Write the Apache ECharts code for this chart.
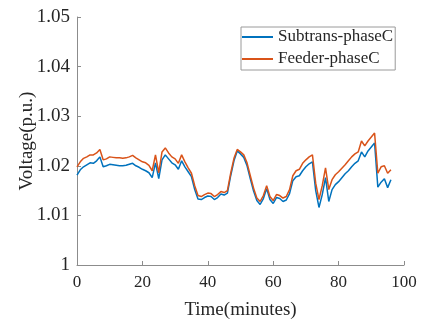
<!DOCTYPE html>
<html>
<head>
<meta charset="utf-8">
<style>
  html, body { margin: 0; padding: 0; background: #fff; }
  #chart { width: 422px; height: 320px; }
</style>
<script src="https://cdn.jsdelivr.net/npm/echarts@6/dist/echarts.min.js"></script>
</head>
<body>
<div id="chart"></div>
<script>
// 时间轴：0..96（每点对应一个采样时刻，单位 minutes 轴刻度）
const timeSteps = [
  0, 1, 2, 3, 4, 5, 6, 7, 8, 9, 10, 11, 12, 13, 14, 15, 16, 17, 18, 19,
  20, 21, 22, 23, 24, 25, 26, 27, 28, 29, 30, 31, 32, 33, 34, 35, 36, 37, 38, 39,
  40, 41, 42, 43, 44, 45, 46, 47, 48, 49, 50, 51, 52, 53, 54, 55, 56, 57, 58, 59,
  60, 61, 62, 63, 64, 65, 66, 67, 68, 69, 70, 71, 72, 73, 74, 75, 76, 77, 78, 79,
  80, 81, 82, 83, 84, 85, 86, 87, 88, 89, 90, 91, 92, 93, 94, 95, 96,
];

// 变电站出口 C 相电压（蓝线）
const subtransPhaseC = [
  1.0181, 1.0192, 1.0198, 1.0202, 1.0206, 1.0205, 1.0210, 1.0218, 1.0198, 1.0200,
  1.0203, 1.0202, 1.0201, 1.0200, 1.0200, 1.0201, 1.0203, 1.0205, 1.0200, 1.0197,
  1.0193, 1.0190, 1.0186, 1.0176, 1.0206, 1.0174, 1.0212, 1.0222, 1.0214, 1.0206,
  1.0202, 1.0193, 1.0210, 1.0198, 1.0188, 1.0178, 1.0152, 1.0133, 1.0132, 1.0136,
  1.0139, 1.0138, 1.0132, 1.0136, 1.0143, 1.0141, 1.0145, 1.0180, 1.0210, 1.0230,
  1.0224, 1.0217, 1.0200, 1.0174, 1.0149, 1.0130, 1.0122, 1.0134, 1.0154, 1.0132,
  1.0124, 1.0136, 1.0134, 1.0128, 1.0131, 1.0144, 1.0170, 1.0178, 1.0180, 1.0190,
  1.0198, 1.0204, 1.0208, 1.0150, 1.0116, 1.0142, 1.0176, 1.0128, 1.0152, 1.0162,
  1.0168, 1.0176, 1.0184, 1.0190, 1.0198, 1.0205, 1.0210, 1.0228, 1.0218, 1.0230,
  1.0238, 1.0246, 1.0157, 1.0167, 1.0174, 1.0156, 1.0172,
];

// 馈线末端 C 相电压（橙线）
const feederPhaseC = [
  1.0198, 1.0208, 1.0215, 1.0218, 1.0222, 1.0222, 1.0226, 1.0233, 1.0212, 1.0214,
  1.0218, 1.0217, 1.0216, 1.0216, 1.0215, 1.0216, 1.0218, 1.0221, 1.0216, 1.0212,
  1.0208, 1.0206, 1.0201, 1.0190, 1.0222, 1.0186, 1.0228, 1.0236, 1.0226, 1.0218,
  1.0214, 1.0205, 1.0222, 1.0208, 1.0196, 1.0185, 1.0160, 1.0140, 1.0138, 1.0142,
  1.0145, 1.0144, 1.0138, 1.0142, 1.0148, 1.0146, 1.0150, 1.0185, 1.0215, 1.0233,
  1.0228, 1.0222, 1.0206, 1.0180, 1.0155, 1.0135, 1.0128, 1.0140, 1.0160, 1.0138,
  1.0130, 1.0142, 1.0140, 1.0135, 1.0138, 1.0152, 1.0180, 1.0190, 1.0193, 1.0205,
  1.0212, 1.0218, 1.0222, 1.0165, 1.0132, 1.0160, 1.0196, 1.0152, 1.0172, 1.0182,
  1.0188, 1.0195, 1.0202, 1.0210, 1.0218, 1.0224, 1.0228, 1.0250, 1.0240, 1.0250,
  1.0258, 1.0266, 1.0185, 1.0198, 1.0200, 1.0185, 1.0192,
];

const SERIF = '"Liberation Serif", "DejaVu Serif", serif';
const TEXT_COLOR = '#262626';
const AXIS_COLOR = '#8c8c8c';
const BLUE = '#0072BD';   // MATLAB 默认第一色
const ORANGE = '#D95319'; // MATLAB 默认第二色

const toPairs = (ys) => timeSteps.map((t, i) => [t, ys[i]]);

const chart = echarts.init(document.getElementById('chart'), null, { renderer: 'canvas' });

chart.setOption({
  backgroundColor: '#fff',
  animation: false,
  textStyle: { fontFamily: SERIF, color: TEXT_COLOR },
  grid: { left: 77, right: 18, top: 17, bottom: 55, containLabel: false, outerBoundsMode: 'none' },
  legend: {
    orient: 'vertical',
    left: 241,
    top: 27,
    padding: [1, 2, 2, 1],
    itemGap: 4,
    itemWidth: 31,
    itemHeight: 2,
    icon: 'rect',
    backgroundColor: '#fff',
    borderColor: '#9a9a9a',
    borderWidth: 1,
    textStyle: { fontFamily: SERIF, fontSize: 17, color: TEXT_COLOR, lineHeight: 18 },
    data: ['Subtrans-phaseC', 'Feeder-phaseC'],
  },
  xAxis: {
    type: 'value',
    min: 0,
    max: 100,
    interval: 20,
    name: 'Time(minutes)',
    nameLocation: 'middle',
    nameGap: 36,
    nameMoveOverlap: false,
    nameTextStyle: { fontFamily: SERIF, fontSize: 19, color: TEXT_COLOR },
    axisLine: { lineStyle: { color: AXIS_COLOR, width: 1 } },
    axisTick: { inside: true, length: 4, lineStyle: { color: AXIS_COLOR } },
    axisLabel: { fontFamily: SERIF, fontSize: 17, color: TEXT_COLOR, margin: 9 },
    splitLine: { show: false },
  },
  yAxis: {
    type: 'value',
    min: 1,
    max: 1.05,
    interval: 0.01,
    name: 'Voltage(p.u.)',
    nameLocation: 'middle',
    nameGap: 40,
    nameMoveOverlap: false,
    nameTextStyle: { fontFamily: SERIF, fontSize: 19, color: TEXT_COLOR },
    axisLine: { show: true, lineStyle: { color: AXIS_COLOR, width: 1 } },
    axisTick: { show: true, inside: true, length: 4, lineStyle: { color: AXIS_COLOR } },
    axisLabel: {
      fontFamily: SERIF,
      fontSize: 19,
      color: TEXT_COLOR,
      margin: 7,
      formatter: (v) => (Math.abs(v - 1) < 1e-9 ? '1' : v.toFixed(2)),
    },
    splitLine: { show: false },
  },
  series: [
    {
      name: 'Subtrans-phaseC',
      type: 'line',
      data: toPairs(subtransPhaseC),
      symbol: 'none',
      color: BLUE,
      lineStyle: { color: BLUE, width: 1.5 },
    },
    {
      name: 'Feeder-phaseC',
      type: 'line',
      data: toPairs(feederPhaseC),
      symbol: 'none',
      color: ORANGE,
      lineStyle: { color: ORANGE, width: 1.5 },
    },
  ],
});
</script>
</body>
</html>
